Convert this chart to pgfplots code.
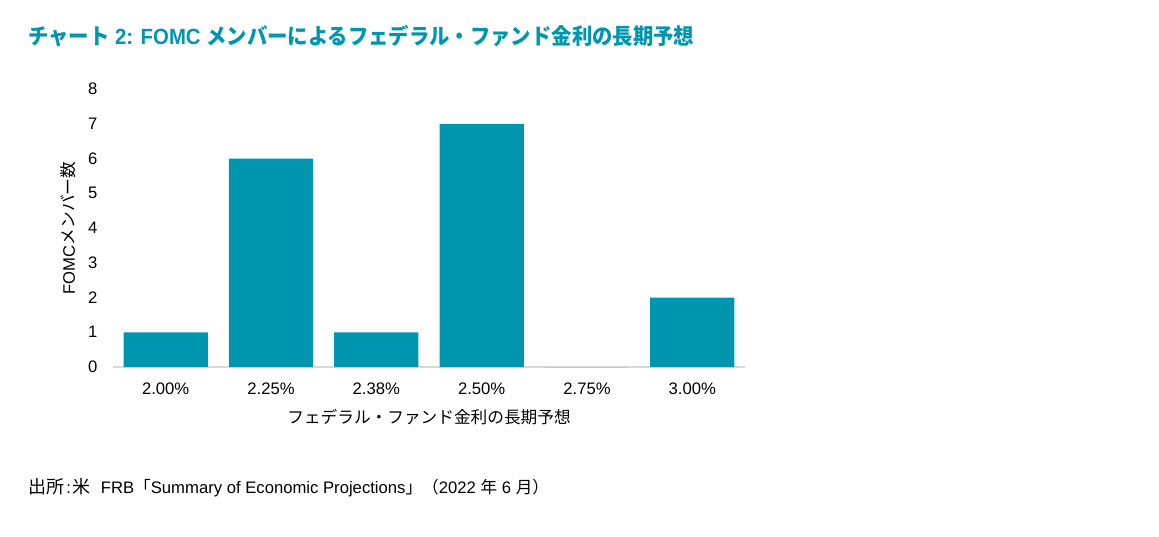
\documentclass[border=0pt]{standalone}
\usepackage{fontspec}
\setmainfont{Liberation Sans}
\newfontfamily\cjk{Noto Sans CJK JP}
\usepackage{pgfplots}
\pgfplotsset{compat=1.18}
\definecolor{teal1}{RGB}{0,150,175}
\definecolor{axisgray}{RGB}{217,217,217}
\begin{document}
\begin{tikzpicture}
\path[use as bounding box] (0,0) rectangle (869.25pt,402pt);
\node[anchor=base west, inner sep=0pt, text=teal1, font=\fontsize{16.5}{18}\selectfont\bfseries] at (21pt,368.25pt)
  {\scalebox{0.925}[1]{{\cjk チャート} 2: FOMC {\cjk メンバーによるフェデラル・ファンド金利の長期予想}}};
\begin{axis}[
  at={(84.75pt,126.75pt)}, anchor=south west,
  scale only axis, width=474pt, height=208.5pt,
  xmin=-0.5, xmax=5.5, ymin=0, ymax=8,
  ybar, bar width=0.8,
  xtick={0,1,2,3,4,5},
  xticklabels={2.00\%,2.25\%,2.38\%,2.50\%,2.75\%,3.00\%},
  ytick={0,1,...,8},
  axis x line=bottom, axis y line=left,
  x axis line style={draw=axisgray, line width=1.2pt, -},
  y axis line style={draw=none},
  tick style={draw=none},
  /pgf/number format/assume math mode=true,
  tick label style={font=\fontsize{12.5}{14}\selectfont},
  yticklabel style={xshift=-6pt},
  xticklabel style={yshift=-6pt},
  xlabel={{\cjk フェデラル・ファンド金利の長期予想}},
  ylabel={FOMC{\cjk メンバー数}},
  label style={font=\fontsize{12.5}{14}\selectfont},
  xlabel style={yshift=-4pt},
  ylabel style={yshift=2pt},
]
\addplot[fill=teal1, draw=none] coordinates {(0,1) (1,6) (2,1) (3,7) (4,0) (5,2)};
\end{axis}
\node[anchor=base west, inner sep=0pt, font=\fontsize{12.5}{14}\selectfont] at (21pt,32.25pt)
  {{\cjk\fontsize{13.5}{14}\selectfont 出所}\kern1.5pt:\kern1.5pt{\cjk\fontsize{13.5}{14}\selectfont 米}\kern4pt\ FRB{\cjk 「}Summary of Economic Projections{\cjk 」（}2022 {\cjk 年} 6 {\cjk 月）}};
\end{tikzpicture}
\end{document}
